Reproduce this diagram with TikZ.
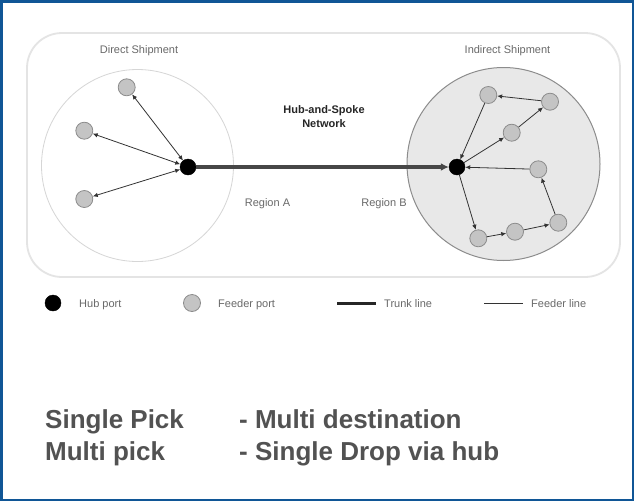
\documentclass[tikz,border=0pt]{standalone}
\usepackage{fontspec}
\setmainfont{Liberation Sans}
\usetikzlibrary{arrows.meta}
\definecolor{frameblue}{RGB}{16,86,150}
\definecolor{txtgray}{RGB}{82,82,82}
\definecolor{lblgray}{RGB}{105,105,105}
\definecolor{feedfill}{RGB}{196,196,196}
\definecolor{feedline}{RGB}{140,140,140}
\definecolor{regfill}{RGB}{232,232,232}
\definecolor{regline}{RGB}{140,140,140}
\definecolor{boxline}{RGB}{228,228,228}
\begin{document}
\begin{tikzpicture}[x=1pt,y=-1pt,
  hub/.style={circle,fill=black,draw=black,minimum size=16pt,inner sep=0pt},
  feeder/.style={circle,fill=feedfill,draw=feedline,line width=0.8pt,minimum size=17pt,inner sep=0pt},
  lbl/.style={font=\fontsize{11}{13}\selectfont,text=lblgray,inner sep=0pt},
  feed/.style={draw=black!80,line width=0.8pt,-{Latex[length=5pt,width=4.5pt]}},
  both/.style={draw=black!80,line width=0.8pt,{Latex[length=5pt,width=4.5pt]}-{Latex[length=5pt,width=4.5pt]}},
  trunk/.style={draw=black!72,line width=3.5pt},
  big/.style={font=\fontsize{26}{30}\selectfont\bfseries,text=txtgray,anchor=base west,inner sep=0pt}
]
\useasboundingbox (0,0) rectangle (634,501);
\fill[white] (0,0) rectangle (634,501);
\draw[frameblue,line width=2.5pt] (1.25,1.25) rectangle (632.75,499.75);

% outer rounded box
\draw[boxline,line width=1.8pt,rounded corners=35pt] (27,33) rectangle (620,277);

% regions
\draw[draw=black!16,line width=0.8pt,fill=white] (137.5,165.5) circle[radius=96pt];
\draw[draw=regline,line width=1pt,fill=regfill] (503.5,164) circle[radius=96.5pt];

% hubs
\node[hub] (hubL) at (188,167) {};
\node[hub] (hubR) at (457,167) {};

% left feeders
\node[feeder] (L1) at (126.7,87.3) {};
\node[feeder] (L2) at (84.3,130.7) {};
\node[feeder] (L3) at (84.3,199) {};

% right feeders
\node[feeder] (F1) at (488.3,95) {};
\node[feeder] (F2) at (550,101.7) {};
\node[feeder] (F3) at (511.7,132.7) {};
\node[feeder] (F4) at (538.3,169.3) {};
\node[feeder] (F5) at (558.3,222.7) {};
\node[feeder] (F6) at (515,231.7) {};
\node[feeder] (F7) at (478.3,238.3) {};

% trunk
\draw[trunk,-{Latex[length=8pt,width=8pt]}] (hubL) -- (hubR);

% left feeder lines
\draw[both] (L1) -- (hubL);
\draw[both] (L2) -- (hubL);
\draw[both] (L3) -- (hubL);

% right feeder loops
\draw[feed] (hubR) -- (F3);
\draw[feed] (F3) -- (F2);
\draw[feed] (F2) -- (F1);
\draw[feed] (F1) -- (hubR);
\draw[feed] (hubR) -- (F7);
\draw[feed] (F7) -- (F6);
\draw[feed] (F6) -- (F5);
\draw[feed] (F5) -- (F4);
\draw[feed] (F4) -- (hubR);

% labels
\node[lbl] (tDirect) at (139,51) {Direct Shipment};
\node[lbl] (tIndirect) at (507.5,51) {Indirect Shipment};
\node[lbl,text=black!85,font=\fontsize{11}{14}\selectfont\bfseries,align=center] (tHub) at (324,117) {Hub-and-Spoke\\Network};
\node[lbl] (tRegA) at (267.5,204) {Region A};
\node[lbl] (tRegB) at (384,204) {Region B};

% legend
\node[hub] (lgHub) at (53,303) {};
\node[lbl,anchor=base west] (lgHubT) at (79,307) {Hub port};
\node[feeder] (lgFeed) at (192,303) {};
\node[lbl,anchor=base west] (lgFeedT) at (218,307) {Feeder port};
\coordinate (lgT1) at (337,303);
\coordinate (lgT2) at (376,303);
\draw[draw=black!85,line width=3pt] (lgT1) -- (lgT2);
\node[lbl,anchor=base west] (lgTrunkT) at (384,307) {Trunk line};
\coordinate (lgF1) at (484,303);
\coordinate (lgF2) at (523,303);
\draw[draw=black!80,line width=0.9pt] (lgF1) -- (lgF2);
\node[lbl,anchor=base west] (lgFeedLT) at (531,307) {Feeder line};

% bottom text
\node[big] (s1) at (45,428) {Single Pick};
\node[big] (s2) at (239,428) {- Multi destination};
\node[big] (m1) at (45,460) {Multi pick};
\node[big] (m2) at (239,460) {- Single Drop via hub};
\end{tikzpicture}
\end{document}
